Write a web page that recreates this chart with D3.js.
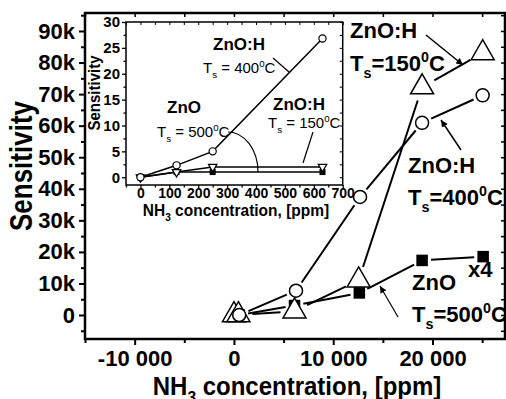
<!DOCTYPE html>
<html>
<head>
<meta charset="utf-8">
<script src="https://cdn.jsdelivr.net/npm/d3@7"></script>
<style>
  body { margin: 0; background: #fff; }
  svg { display: block; font-family: Arial, "Liberation Sans", sans-serif; }
</style>
</head>
<body>
<div id="chart"></div>
<script>
// ---- main chart data (NH3 concentration in ppm, sensitivity) ----
const h150X = [0, 450, 6100, 12560, 18950, 25050];
const h150Y = [0, 0, 1200, 11000, 72200, 83000];
const h400X = [530, 6250, 12700, 18950, 25050];
const h400Y = [0, 7700, 37400, 60900, 69600];
const znoX = [530, 6100, 12630, 18950, 25100];
const znoY = [0, 3000, 7000, 17300, 18500];

const mainXTicks = [-10000, 0, 10000, 20000];
const mainXMinor = [-15000, -5000, 5000, 15000, 25000];
const mainYTicks = [0, 10000, 20000, 30000, 40000, 50000, 60000, 70000, 80000, 90000];
const mainYMinor = [-5000, 5000, 15000, 25000, 35000, 45000, 55000, 65000, 75000, 85000, 95000];

// ---- inset data ----
const insetX = [0, 125, 250, 630];
const insetH400 = [0, 2.3, 5, 26.8];
const insetH150 = [0, 1, 2, 2];
const insetZnO = [0, 1, 1, 1];

const insetXTicks = [0, 100, 200, 300, 400, 500, 600, 700];
const insetXMinor = [-50, 50, 150, 250, 350, 450, 550, 650];
const insetYTicks = [0, 5, 10, 15, 20, 25, 30];
const insetYMinor = [2.5, 7.5, 12.5, 17.5, 22.5, 27.5];

const W = 506;
const H = 399;

const svg = d3.select('#chart')
  .append('svg')
  .attr('width', W)
  .attr('height', H);

svg.append('defs').append('marker')
  .attr('id', 'arrow')
  .attr('viewBox', '0 0 10 10')
  .attr('refX', 10)
  .attr('refY', 5)
  .attr('markerWidth', 7)
  .attr('markerHeight', 7)
  .attr('markerUnits', 'userSpaceOnUse')
  .attr('orient', 'auto')
  .append('path')
  .attr('d', 'M0,0 L10,5 L0,10 Z')
  .attr('fill', '#000');

// main scales
const x = d3.scaleLinear().domain([-15000, 27300]).range([85, 505]);
const y = d3.scaleLinear().domain([-7600, 95700]).range([339, 13]);

const spaceLocale = d3.formatLocale({
  decimal: '.', thousands: ' ', grouping: [3], currency: ['', ''], minus: '-',
});
const xFmt = spaceLocale.format(',d');
const yFmt = (d) => (d === 0 ? '0' : `${d / 1000}k`);

// helper: draws a tick set, styles it
function ticks(g, axis, size, values, fmt, width) {
  const sel = g.append('g').call(axis.tickValues(values).tickSize(size).tickFormat(fmt || ''));
  sel.select('.domain').remove();
  sel.selectAll('line').attr('stroke', '#000').attr('stroke-width', width);
  return sel;
}

// main frame ticks
const mainG = svg.append('g');
const xb = ticks(mainG.append('g').attr('transform', 'translate(0,339)'),
  d3.axisBottom(x), 6, mainXTicks, xFmt, 2);
xb.selectAll('text')
  .attr('y', 11)
  .attr('font-size', 22)
  .attr('font-weight', 'bold')
  .attr('font-family', 'Arial, "Liberation Sans", sans-serif')
  .attr('fill', '#000');
ticks(mainG.append('g').attr('transform', 'translate(0,339)'), d3.axisBottom(x), 4, mainXMinor, null, 2);
// top mirror, inward
ticks(mainG.append('g').attr('transform', 'translate(0,13)'), d3.axisBottom(x), 4,
  mainXTicks.concat(mainXMinor), null, 1.5);

const yl = ticks(mainG.append('g').attr('transform', 'translate(85,0)'),
  d3.axisLeft(y), 6, mainYTicks, yFmt, 2);
yl.selectAll('text')
  .attr('x', -10)
  .attr('font-size', 22)
  .attr('font-weight', 'bold')
  .attr('font-family', 'Arial, "Liberation Sans", sans-serif')
  .attr('fill', '#000');
ticks(mainG.append('g').attr('transform', 'translate(85,0)'), d3.axisLeft(y), 4, mainYMinor, null, 2);
// right mirror, inward
ticks(mainG.append('g').attr('transform', 'translate(505,0)'), d3.axisLeft(y), 4,
  mainYTicks.concat(mainYMinor), null, 1.5);

mainG.append('rect')
  .attr('x', 85).attr('y', 13)
  .attr('width', 505 - 85).attr('height', 339 - 13)
  .attr('fill', 'none')
  .attr('stroke', '#000')
  .attr('stroke-width', 2.5);

// ---- main series: lines with gaps around the symbols ----
function gappedLine(g, xs, ys, sx, sy, gap, width) {
  const pts = xs.map((v, i) => [sx(v), sy(ys[i])]);
  for (let i = 1; i < pts.length; i += 1) {
    const [x0, y0] = pts[i - 1];
    const [x1, y1] = pts[i];
    const len = Math.hypot(x1 - x0, y1 - y0);
    if (len > gap * 2 + 2) {
      const ux = (x1 - x0) / len;
      const uy = (y1 - y0) / len;
      g.append('line')
        .attr('x1', x0 + ux * gap).attr('y1', y0 + uy * gap)
        .attr('x2', x1 - ux * gap).attr('y2', y1 - uy * gap)
        .attr('stroke', '#000')
        .attr('stroke-width', width);
    }
  }
}

const triUp = (w, h) => `M0,${-2 * h / 3}L${w / 2},${h / 3}L${-w / 2},${h / 3}Z`;
const triDown = (w, h) => `M0,${2 * h / 3}L${w / 2},${-h / 3}L${-w / 2},${-h / 3}Z`;

function drawSquares(g, xs, ys, sx, sy, s) {
  g.selectAll(null).data(xs).enter().append('rect')
    .attr('x', (d) => sx(d) - s / 2)
    .attr('y', (d, i) => sy(ys[i]) - s / 2)
    .attr('width', s).attr('height', s)
    .attr('fill', '#000');
}
function drawTris(g, xs, ys, sx, sy, path, sw) {
  g.selectAll(null).data(xs).enter().append('path')
    .attr('d', path)
    .attr('transform', (d, i) => `translate(${sx(d)},${sy(ys[i])})`)
    .attr('fill', '#fff').attr('stroke', '#000').attr('stroke-width', sw);
}
function drawCircles(g, xs, ys, sx, sy, r, sw) {
  g.selectAll(null).data(xs).enter().append('circle')
    .attr('cx', (d) => sx(d))
    .attr('cy', (d, i) => sy(ys[i]))
    .attr('r', r)
    .attr('fill', '#fff').attr('stroke', '#000').attr('stroke-width', sw);
}

const series = svg.append('g');
gappedLine(series, znoX, znoY, x, y, 9, 2);
gappedLine(series, h150X, h150Y, x, y, 14, 2);
gappedLine(series, h400X, h400Y, x, y, 10, 2);
drawSquares(series, znoX, znoY, x, y, 11.5);
drawTris(series, h150X, h150Y, x, y, triUp(23, 20), 1.5);
drawCircles(series, h400X, h400Y, x, y, 6.5, 1.5);

// rich text: parts are [text, 'n' | 'sub' | 'sup']
function richText(g, px, py, parts, size, weight, anchor) {
  const t = g.append('text')
    .attr('x', px).attr('y', py)
    .attr('font-size', size)
    .attr('font-weight', weight)
    .attr('text-anchor', anchor || 'start')
    .attr('fill', '#000');
  let shift = 0;
  parts.forEach(([txt, kind]) => {
    let target = 0;
    let fs = size;
    if (kind === 'sub') { target = size * 0.32; fs = size * 0.65; }
    if (kind === 'sup') { target = -size * 0.42; fs = size * 0.65; }
    t.append('tspan')
      .attr('dy', target - shift)
      .attr('font-size', fs)
      .text(txt);
    shift = target;
  });
  return t;
}

// main annotations
const ann = svg.append('g');
richText(ann, 350, 37.5, [['ZnO:H', 'n']], 22, 'bold');
richText(ann, 350, 71, [['T', 'n'], ['s', 'sub'], ['=150', 'n'], ['0', 'sup'], ['C', 'n']], 22, 'bold');
richText(ann, 408, 173, [['ZnO:H', 'n']], 22, 'bold');
richText(ann, 408, 205, [['T', 'n'], ['s', 'sub'], ['=400', 'n'], ['0', 'sup'], ['C', 'n']], 22, 'bold');
richText(ann, 412, 290, [['ZnO', 'n']], 22, 'bold');
richText(ann, 468, 277, [['x4', 'n']], 22, 'bold');
richText(ann, 412, 322, [['T', 'n'], ['s', 'sub'], ['=500', 'n'], ['0', 'sup'], ['C', 'n']], 22, 'bold');

const pointers = [
  [426, 35, 463, 65, 1.5],
  [461, 150, 441, 120, 1.5],
  [398, 317, 380, 286, 1.2],
];
pointers.forEach(([x1, y1, x2, y2, w]) => {
  ann.append('line')
    .attr('x1', x1).attr('y1', y1).attr('x2', x2).attr('y2', y2)
    .attr('stroke', '#000').attr('stroke-width', w)
    .attr('marker-end', 'url(#arrow)');
});

// axis titles
richText(svg.append('g').attr('transform', 'translate(297,395) scale(1,1.1)'), 0, 0,
  [['NH', 'n'], ['3', 'sub'], [' concentration, [ppm]', 'n']], 24, 'bold', 'middle');
richText(svg.append('g').attr('transform', 'translate(32,166) rotate(-90) scale(1,1.2)'), 0, 0,
  [['Sensitivity', 'n']], 26, 'bold', 'middle');

// ---- inset ----
const ix = d3.scaleLinear().domain([-50, 700]).range([126, 342.7]);
const iy = d3.scaleLinear().domain([-1.5, 30]).range([185, 22]);
const inset = svg.append('g');

inset.append('rect')
  .attr('x', 126).attr('y', 22)
  .attr('width', 342.7 - 126).attr('height', 185 - 22)
  .attr('fill', '#fff');

const ixb = ticks(inset.append('g').attr('transform', 'translate(0,185)'),
  d3.axisBottom(ix), 4, insetXTicks, d3.format('d'), 1.3);
ixb.selectAll('text')
  .attr('y', 13)
  .attr('dy', 0)
  .attr('font-size', 14)
  .attr('font-weight', 'bold')
  .attr('font-family', 'Arial, "Liberation Sans", sans-serif')
  .attr('fill', '#000');
ticks(inset.append('g').attr('transform', 'translate(0,185)'), d3.axisBottom(ix), 2.5, insetXMinor, null, 1.3);
ticks(inset.append('g').attr('transform', 'translate(0,22)'), d3.axisBottom(ix), 3,
  insetXTicks.concat(insetXMinor), null, 1);

const iyl = ticks(inset.append('g').attr('transform', 'translate(126,0)'),
  d3.axisLeft(iy), 4, insetYTicks, d3.format('d'), 1.3);
iyl.selectAll('text')
  .attr('x', -6)
  .attr('font-size', 15)
  .attr('font-weight', 'bold')
  .attr('font-family', 'Arial, "Liberation Sans", sans-serif')
  .attr('fill', '#000');
ticks(inset.append('g').attr('transform', 'translate(126,0)'), d3.axisLeft(iy), 2.5, insetYMinor, null, 1.3);
ticks(inset.append('g').attr('transform', 'translate(342.7,0)'), d3.axisLeft(iy), 3,
  insetYTicks.concat(insetYMinor), null, 1);

inset.append('rect')
  .attr('x', 126).attr('y', 22)
  .attr('width', 342.7 - 126).attr('height', 185 - 22)
  .attr('fill', 'none')
  .attr('stroke', '#000')
  .attr('stroke-width', 1.5);

// inset lines (drawn through, symbols on top)
const iline = d3.line().x((d) => ix(d[0])).y((d) => iy(d[1]));
[insetZnO, insetH150, insetH400].forEach((ys) => {
  inset.append('path')
    .attr('d', iline(insetX.map((v, i) => [v, ys[i]])))
    .attr('fill', 'none')
    .attr('stroke', '#000')
    .attr('stroke-width', 1.5);
});
drawSquares(inset, insetX, insetZnO, ix, iy, 6);
drawTris(inset, insetX, insetH150, ix, iy, triDown(8.5, 7.5), 1.2);
drawCircles(inset, insetX, insetH400, ix, iy, 3.6, 1.2);

// inset annotations
richText(inset, 213, 50, [['ZnO:H', 'n']], 17, 'bold');
richText(inset, 203, 73, [['T', 'n'], ['s', 'sub'], [' = 400', 'n'], ['0', 'sup'], ['C', 'n']], 15, 'normal');
richText(inset, 167, 113, [['ZnO', 'n']], 17, 'bold');
richText(inset, 157, 137, [['T', 'n'], ['s', 'sub'], [' = 500', 'n'], ['0', 'sup'], ['C', 'n']], 15, 'normal');
richText(inset, 273, 110, [['ZnO:H', 'n']], 17, 'bold');
richText(inset, 268, 128, [['T', 'n'], ['s', 'sub'], [' = 150', 'n'], ['0', 'sup'], ['C', 'n']], 15, 'normal');

inset.append('line')
  .attr('x1', 273).attr('y1', 58).attr('x2', 289).attr('y2', 72)
  .attr('stroke', '#000').attr('stroke-width', 1.2);
inset.append('path')
  .attr('d', 'M228,132 A30,40 0 0,1 258,172')
  .attr('fill', 'none')
  .attr('stroke', '#000').attr('stroke-width', 1.2);
inset.append('line')
  .attr('x1', 313).attr('y1', 132).attr('x2', 303).attr('y2', 163)
  .attr('stroke', '#000').attr('stroke-width', 1.2);

// inset axis titles
richText(svg.append('g').attr('transform', 'translate(236,216) scale(1,1.1)'), 0, 0,
  [['NH', 'n'], ['3', 'sub'], [' concentration, [ppm]', 'n']], 15.5, 'bold', 'middle');
richText(svg.append('g').attr('transform', 'translate(100,93) rotate(-90) scale(1,1.1)'), 0, 0,
  [['Sensitivity', 'n']], 15, 'bold', 'middle');
</script>
</body>
</html>
